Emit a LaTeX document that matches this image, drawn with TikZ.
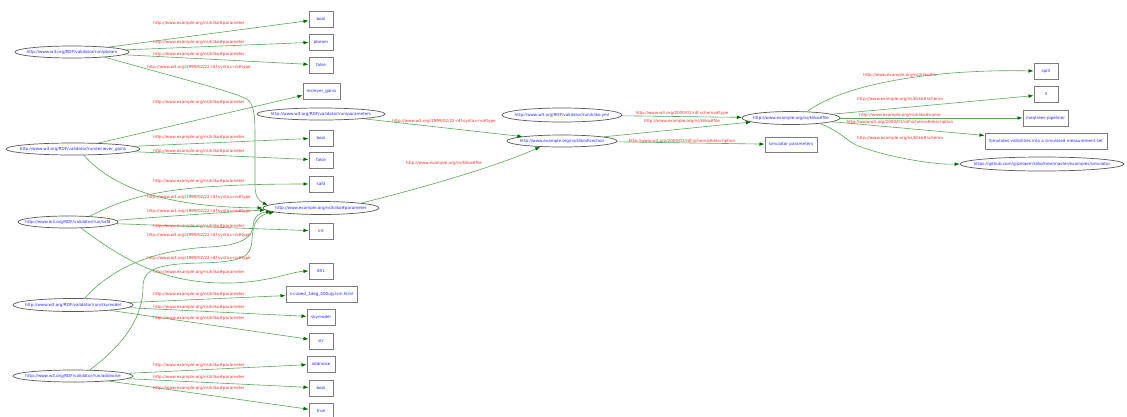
\documentclass[tikz,border=0pt]{standalone}
\usepackage{fontspec}
\setmainfont{DejaVu Sans}
\usetikzlibrary{arrows.meta,shapes.geometric}
\definecolor{edgegreen}{RGB}{95,165,95}
\definecolor{tipgreen}{RGB}{0,100,0}
\definecolor{lblred}{RGB}{255,45,45}
\definecolor{txtblue}{RGB}{40,40,255}
\definecolor{ellgray}{RGB}{90,90,90}
\definecolor{boxgray}{RGB}{125,125,125}
\newcommand{\zw}[1]{\makebox[0pt]{#1}}
\tikzset{
  tiny/.style={font=\fontsize{4.1}{5}\selectfont},
  res/.style={ellipse, draw=ellgray, line width=0.7pt, inner sep=0pt, text=txtblue, tiny},
  lit/.style={rectangle, draw=boxgray, line width=1pt, inner sep=0pt, minimum height=16pt, minimum width=24pt, text=txtblue, tiny},
  lbl/.style={text=lblred, inner sep=0pt, tiny},
  rel/.style={draw=edgegreen, line width=0.6pt, -{Latex[length=5pt,width=3.6pt,color=tipgreen]}},
}
\begin{document}
\begin{tikzpicture}[x=1pt,y=-1pt]
\fill[white] (0,0) rectangle (1127,416);
\useasboundingbox (0,0) rectangle (1127,416);

% resource ellipses
\node[res, minimum width=114pt, minimum height=12pt] (pbeamE) at (72,52) {\zw{http://www.w3.org/RDF/validator/run/pbeam}};
\node[res, minimum width=128pt, minimum height=12pt] (paramsE) at (321,114) {\zw{http://www.w3.org/RDF/validator/run/parameters}};
\node[res, minimum width=134pt, minimum height=12pt] (rgE) at (73,149) {\zw{http://www.w3.org/RDF/validator/run/reciever\_gains}};
\node[res, minimum width=116pt, minimum height=13pt] (paramE) at (321,208) {\zw{http://www.example.org/ns/kliko\#parameter}};
\node[res, minimum width=100pt, minimum height=12pt] (safdE) at (68,222) {\zw{http://www.w3.org/RDF/validator/run/safd}};
\node[res, minimum width=120pt, minimum height=13pt] (skyE) at (73,305) {\zw{http://www.w3.org/RDF/validator/run/skymodel}};
\node[res, minimum width=120pt, minimum height=12pt] (addE) at (73,376) {\zw{http://www.w3.org/RDF/validator/run/addnoise}};
\node[res, minimum width=120pt, minimum height=14pt] (klikoE) at (562,115) {\zw{http://www.w3.org/RDF/validator/run/kliko.yml}};
\node[res, minimum width=110pt, minimum height=12pt] (sectionE) at (562,141) {\zw{http://www.example.org/ns/kliko\#section}};
\node[res, minimum width=98pt, minimum height=13pt] (fileE) at (791,118) {\zw{http://www.example.org/ns/kliko\#file}};
\node[res, minimum width=164pt, minimum height=14pt] (githubE) at (1042,164) {\zw{https://github.com/gijzelaerr/kliko/tree/master/examples/simulator}};

% literal boxes
\node[lit] (boolA) at (321,19) {bool};
\node[lit] (pbeamB) at (321,42) {pbeam};
\node[lit] (falseA) at (321,65) {false};
\node[lit, minimum width=37pt] (rgB) at (321.5,91) {reciever\_gains};
\node[lit] (boolB) at (321,138) {bool};
\node[lit] (falseB) at (321,160) {false};
\node[lit] (safdB) at (321,184) {safd};
\node[lit] (intB) at (321,231) {int};
\node[lit] (bB) at (321,271) {851};
\node[lit, minimum width=71pt] (scubedB) at (321.5,294) {s-cubed\_1deg\_400uJy.lsm.html};
\node[lit, minimum width=28pt] (skyB) at (321,317) {skymodel};
\node[lit] (strB) at (321,341) {str};
\node[lit, minimum width=28pt] (addB) at (321,364) {addnoise};
\node[lit] (boolC) at (321,388) {bool};
\node[lit] (trueB) at (321,411) {true};
\node[lit, minimum width=52pt, minimum height=15pt] (simB) at (791,144.5) {simulator parameters};
\node[lit] (splitB) at (1046,71) {split};
\node[lit] (threeB) at (1046,94.5) {3};
\node[lit, minimum width=45pt] (meqB) at (1045.5,118) {meqtrees-pipeliner};
\node[lit, minimum width=122pt] (simdB) at (1046,141) {Simulates visibilities into a simulated measurement set};

% edge labels
\node[lbl] (l1) at (199,23) {http://www.example.org/ns/kliko\#parameter};
\node[lbl] (l2) at (199,42) {http://www.example.org/ns/kliko\#parameter};
\node[lbl] (l3) at (199,54) {http://www.example.org/ns/kliko\#parameter};
\node[lbl] (l4) at (199,67) {http://www.w3.org/1999/02/22-rdf-syntax-ns\#type};
\node[lbl] (l5) at (199,102) {http://www.example.org/ns/kliko\#parameter};
\node[lbl] (l6) at (199,137) {http://www.example.org/ns/kliko\#parameter};
\node[lbl] (l7) at (199,151) {http://www.example.org/ns/kliko\#parameter};
\node[lbl] (l8) at (199,181) {http://www.example.org/ns/kliko\#parameter};
\node[lbl] (l9) at (199,197) {http://www.w3.org/1999/02/22-rdf-syntax-ns\#type};
\node[lbl] (l10) at (199,211) {http://www.w3.org/1999/02/22-rdf-syntax-ns\#type};
\node[lbl] (l11) at (199,226) {http://www.example.org/ns/kliko\#parameter};
\node[lbl] (l12) at (199,235) {http://www.w3.org/1999/02/22-rdf-syntax-ns\#type};
\node[lbl] (l13) at (199,258) {http://www.w3.org/1999/02/22-rdf-syntax-ns\#type};
\node[lbl] (l14) at (199,272) {http://www.example.org/ns/kliko\#parameter};
\node[lbl] (l15) at (199,294) {http://www.example.org/ns/kliko\#parameter};
\node[lbl] (l16) at (199,307) {http://www.example.org/ns/kliko\#parameter};
\node[lbl] (l17) at (199,318) {http://www.example.org/ns/kliko\#parameter};
\node[lbl] (l18) at (199,365) {http://www.example.org/ns/kliko\#parameter};
\node[lbl] (l19) at (199,377) {http://www.example.org/ns/kliko\#parameter};
\node[lbl] (l20) at (199,388) {http://www.example.org/ns/kliko\#parameter};
\node[lbl] (m1) at (444,121) {http://www.w3.org/1999/02/22-rdf-syntax-ns\#type};
\node[lbl] (m2) at (444,163) {http://www.example.org/ns/kliko\#file};
\node[lbl] (r1) at (682,113) {http://www.w3.org/2000/01/rdf-schema\#type};
\node[lbl] (r2) at (682,121) {http://www.example.org/ns/kliko\#file};
\node[lbl] (r3) at (682,141) {http://www.w3.org/2000/01/rdf-schema\#description};
\node[lbl] (r4) at (900,75) {http://www.example.org/ns/kliko\#io};
\node[lbl] (r5) at (900,99) {http://www.example.org/ns/kliko\#schema};
\node[lbl] (r6) at (900,115) {http://www.example.org/ns/kliko\#name};
\node[lbl] (r7) at (900,122) {http://www.w3.org/2000/01/rdf-schema\#description};
\node[lbl] (r8) at (900,138) {http://www.example.org/ns/kliko\#schema};

% pbeam
\draw[rel] (pbeamE) -- (boolA);
\draw[rel] (pbeamE) -- (pbeamB);
\draw[rel] (pbeamE) -- (falseA);
\draw[rel] (pbeamE.-9) .. controls (200,84) and (238,93) .. (248,100)
  .. controls (255,106) and (255,120) .. (255,140) -- (255,185)
  .. controls (255,197) and (259,201) .. (paramE.177.5);
% reciever_gains
\draw[rel] (rgE) -- (rgB);
\draw[rel] (rgE) -- (boolB);
\draw[rel] (rgE) -- (falseB);
\draw[rel] (rgE.-30) .. controls (115,190) and (170,207) .. (paramE.180);
% safd
\draw[rel] (safdE.15) .. controls (130,196) and (165,184) .. (safdB.west);
\draw[rel] (safdE.2) .. controls (170,216) and (230,212) .. (paramE.182);
\draw[rel] (safdE) -- (intB);
\draw[rel] (safdE.-25) .. controls (130,265) and (170,284) .. (230,283)
  .. controls (270,282) and (290,272) .. (bB.west);
% skymodel
\draw[rel] (skyE.30) .. controls (110,270) and (150,250) .. (210,247)
  .. controls (245,245) and (252,236) .. (253,226)
  .. controls (254,217) and (258,213) .. (paramE.184);
\draw[rel] (skyE) -- (scubedB);
\draw[rel] (skyE) -- (skyB);
\draw[rel] (skyE) -- (strB);
% addnoise
\draw[rel] (addE.20) .. controls (130,340) and (143,312) .. (143,287)
  .. controls (143,268) and (160,264) .. (200,263)
  .. controls (245,262) and (251,256) .. (252,240)
  .. controls (253,222) and (258,215) .. (paramE.185);
\draw[rel] (addE) -- (addB);
\draw[rel] (addE) -- (boolC);
\draw[rel] (addE) -- (trueB);
% middle
\draw[rel] (paramsE) -- (sectionE);
\draw[rel] (paramE.7) .. controls (430,186) and (500,165) .. (sectionE.-165);
\draw[rel] (klikoE) -- (fileE);
\draw[rel] (sectionE) -- (fileE);
\draw[rel] (sectionE) -- (simB);
% file
\draw[rel] (fileE.22) .. controls (850,80) and (950,69) .. (splitB.west);
\draw[rel] (fileE) -- (threeB);
\draw[rel] (fileE) -- (meqB);
\draw[rel] (fileE) -- (simdB);
\draw[rel] (fileE.-11) .. controls (838,130) and (846,140) .. (856,145)
  .. controls (880,155) and (930,165) .. (githubE.west);
\end{tikzpicture}
\end{document}
